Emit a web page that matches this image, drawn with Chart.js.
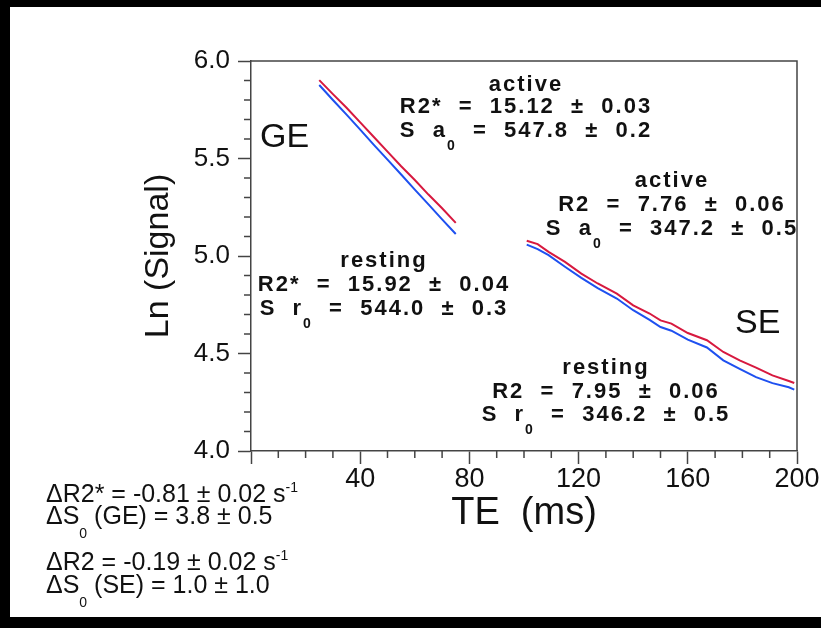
<!DOCTYPE html>
<html lang="en">
<head>
  <meta charset="UTF-8">
  <title>Ln (Signal) vs TE</title>
  <script src="https://cdn.jsdelivr.net/npm/chart.js@4.4.3/dist/chart.umd.min.js"></script>
  <style>
    html, body {
      margin: 0;
      padding: 0;
      background: #000;
      width: 821px;
      height: 628px;
      overflow: hidden;
    }
    #wrap {
      position: absolute;
      left: 10px;
      top: 7px;
      width: 811px;
      height: 610px;
      background: #fff;
    }
  </style>
</head>
<body>
  <div id="wrap"><canvas id="chart" width="811" height="610"></canvas></div>

  <script>
    // Gradient echo (GE) curves
    const teGE = [25, 30, 35, 40, 45, 50, 55, 60, 65, 70, 75];
    const geActive = [5.902, 5.83, 5.76, 5.685, 5.61, 5.535, 5.46, 5.39, 5.315, 5.245, 5.17];
    const geResting = [5.877, 5.80, 5.725, 5.648, 5.57, 5.494, 5.418, 5.34, 5.265, 5.188, 5.113];

    // Spin echo (SE) curves
    const teSE = [101, 105, 109, 115, 121, 127, 134, 140, 146, 150, 154, 160, 167, 173, 179, 185, 191, 197, 199];
    const seActive = [5.078, 5.061, 5.021, 4.970, 4.910, 4.859, 4.807, 4.747, 4.705, 4.670, 4.653, 4.605, 4.568, 4.508, 4.465, 4.428, 4.388, 4.359, 4.349];
    const seResting = [5.058, 5.035, 5.004, 4.945, 4.888, 4.835, 4.782, 4.722, 4.672, 4.636, 4.617, 4.571, 4.531, 4.465, 4.421, 4.379, 4.348, 4.327, 4.315];

    // axis ticks
    const xTicks = [0, 40, 80, 120, 160, 200];
    const yTicks = [4.0, 4.5, 5.0, 5.5, 6.0];

    const RED = '#d7193f';
    const BLUE = '#1e50f0';
    const AXIS = '#444';

    function pts(xs, ys) {
      return xs.map((x, i) => ({ x: x, y: ys[i] }));
    }

    // text blocks: [baseline y, runs] ; run = [text, 'sub'|'sup'|undefined]
    const fitBlocks = [
      { x: 516, rows: [
        [84, [['active']]],
        [106, [['R2*  =  15.12  \u00b1  0.03']]],
        [130, [['S  a'], ['0', 'sub'], ['  =  547.8  \u00b1  0.2']]]
      ]},
      { x: 662, rows: [
        [180, [['active']]],
        [204, [['R2  =  7.76  \u00b1  0.06']]],
        [228, [['S  a'], ['0', 'sub'], ['  =  347.2  \u00b1  0.5']]]
      ]},
      { x: 374, rows: [
        [260, [['resting']]],
        [284, [['R2*  =  15.92  \u00b1  0.04']]],
        [308, [['S  r'], ['0', 'sub'], ['  =  544.0  \u00b1  0.3']]]
      ]},
      { x: 596, rows: [
        [367, [['resting']]],
        [391, [['R2  =  7.95  \u00b1  0.06']]],
        [414, [['S  r'], ['0', 'sub'], ['  =  346.2  \u00b1  0.5']]]
      ]}
    ];

    const noteRows = [
      [495, [['\u0394R2* = -0.81 \u00b1 0.02 s'], ['-1', 'sup']]],
      [517, [['\u0394S'], ['0', 'sub'], [' (GE) = 3.8 \u00b1 0.5']]],
      [563, [['\u0394R2 = -0.19 \u00b1 0.02 s'], ['-1', 'sup']]],
      [586, [['\u0394S'], ['0', 'sub'], [' (SE) = 1.0 \u00b1 1.0']]]
    ];

    function drawRuns(ctx, runs, x, y, o) {
      ctx.letterSpacing = (o.spacing || 0) + 'px';
      const widths = runs.map(r => {
        ctx.font = r[1] ? o.small : o.main;
        return ctx.measureText(r[0]).width;
      });
      const total = widths.reduce((a, b) => a + b, 0);
      let cx = o.center ? x - total / 2 : x;
      runs.forEach((r, i) => {
        ctx.font = r[1] ? o.small : o.main;
        let dy = 0;
        if (r[1] === 'sub') dy = o.subDy;
        if (r[1] === 'sup') dy = o.supDy;
        ctx.fillText(r[0], cx, y + dy);
        cx += widths[i];
      });
      ctx.letterSpacing = '0px';
    }

    const extras = {
      id: 'extras',
      afterDraw(chart) {
        const ctx = chart.ctx;
        const a = chart.chartArea;
        const xs = chart.scales.x, ys = chart.scales.y;
        ctx.save();
        ctx.strokeStyle = AXIS;
        ctx.lineWidth = 1.5;
        // top and right frame
        ctx.beginPath();
        ctx.moveTo(a.left, a.top);
        ctx.lineTo(a.right, a.top);
        ctx.lineTo(a.right, a.bottom);
        ctx.stroke();
        // minor ticks
        ctx.beginPath();
        for (let v = 10; v < 200; v += 10) {
          if (v % 40 === 0) continue;
          const px = xs.getPixelForValue(v);
          ctx.moveTo(px, a.bottom);
          ctx.lineTo(px, a.bottom + 7);
        }
        for (let k = 41; k < 60; k++) {
          if (k % 5 === 0) continue;
          const py = ys.getPixelForValue(k / 10);
          ctx.moveTo(a.left - 7, py);
          ctx.lineTo(a.left, py);
        }
        ctx.stroke();

        ctx.fillStyle = '#111';
        ctx.textAlign = 'left';
        ctx.textBaseline = 'alphabetic';

        // GE / SE labels
        ctx.font = '34px "Liberation Sans", Arial, sans-serif';
        ctx.fillText('GE', 250, 140);
        ctx.fillText('SE', 725, 326);

        // fit results
        fitBlocks.forEach(b => {
          b.rows.forEach(row => {
            drawRuns(ctx, row[1], b.x, row[0], {
              main: 'bold 22px "Liberation Sans", Arial, sans-serif',
              small: 'bold 14px "Liberation Sans", Arial, sans-serif',
              spacing: 2, subDy: 13, supDy: -9, center: true
            });
          });
        });

        // differences, lower left
        noteRows.forEach(row => {
          drawRuns(ctx, row[1], 36, row[0], {
            main: '25px "Liberation Sans", Arial, sans-serif',
            small: '14px "Liberation Sans", Arial, sans-serif',
            spacing: 0, subDy: 14, supDy: -10, center: false
          });
        });
        ctx.restore();
      }
    };

    const line = (data, color) => ({
      data: data,
      showLine: true,
      borderColor: color,
      backgroundColor: color,
      borderWidth: 2,
      pointRadius: 0,
      tension: 0
    });

    new Chart(document.getElementById('chart'), {
      type: 'scatter',
      data: {
        datasets: [
          line(pts(teGE, geResting), BLUE),
          line(pts(teGE, geActive), RED),
          line(pts(teSE, seResting), BLUE),
          line(pts(teSE, seActive), RED)
        ]
      },
      options: {
        responsive: false,
        animation: false,
        layout: { padding: { top: 54, right: 24, bottom: 0, left: 0 } },
        plugins: {
          legend: { display: false },
          tooltip: { enabled: false }
        },
        scales: {
          x: {
            type: 'linear',
            min: 0,
            max: 200,
            afterBuildTicks: s => { s.ticks = xTicks.map(v => ({ value: v })); },
            afterFit: s => { s.height = 166; },
            ticks: {
              color: '#111',
              padding: -1,
              maxRotation: 0,
              font: { family: '"Liberation Sans", Arial, sans-serif', size: 27 },
              callback: v => (v === 0 ? '' : v)
            },
            grid: { drawOnChartArea: false, drawTicks: true, tickLength: 13, color: AXIS, tickWidth: 1.5 },
            border: { color: AXIS, width: 1.5 },
            title: {
              display: true,
              text: 'TE  (ms)',
              color: '#111',
              font: { family: '"Liberation Sans", Arial, sans-serif', size: 38, lineHeight: 1 },
              padding: { top: 0, bottom: 84 }
            }
          },
          y: {
            type: 'linear',
            min: 4,
            max: 6,
            afterBuildTicks: s => { s.ticks = yTicks.map(v => ({ value: v })); },
            afterFit: s => { s.width = 241; },
            ticks: {
              color: '#111',
              padding: 8,
              font: { family: '"Liberation Sans", Arial, sans-serif', size: 26 },
              callback: v => Number(v).toFixed(1)
            },
            grid: { drawOnChartArea: false, drawTicks: true, tickLength: 13, color: AXIS, tickWidth: 1.5 },
            border: { color: AXIS, width: 1.5 },
            title: {
              display: true,
              text: 'Ln (Signal)',
              color: '#111',
              font: { family: '"Liberation Sans", Arial, sans-serif', size: 34, lineHeight: 1 },
              padding: { top: 132, bottom: 0 }
            }
          }
        }
      },
      plugins: [extras]
    });
  </script>
</body>
</html>
